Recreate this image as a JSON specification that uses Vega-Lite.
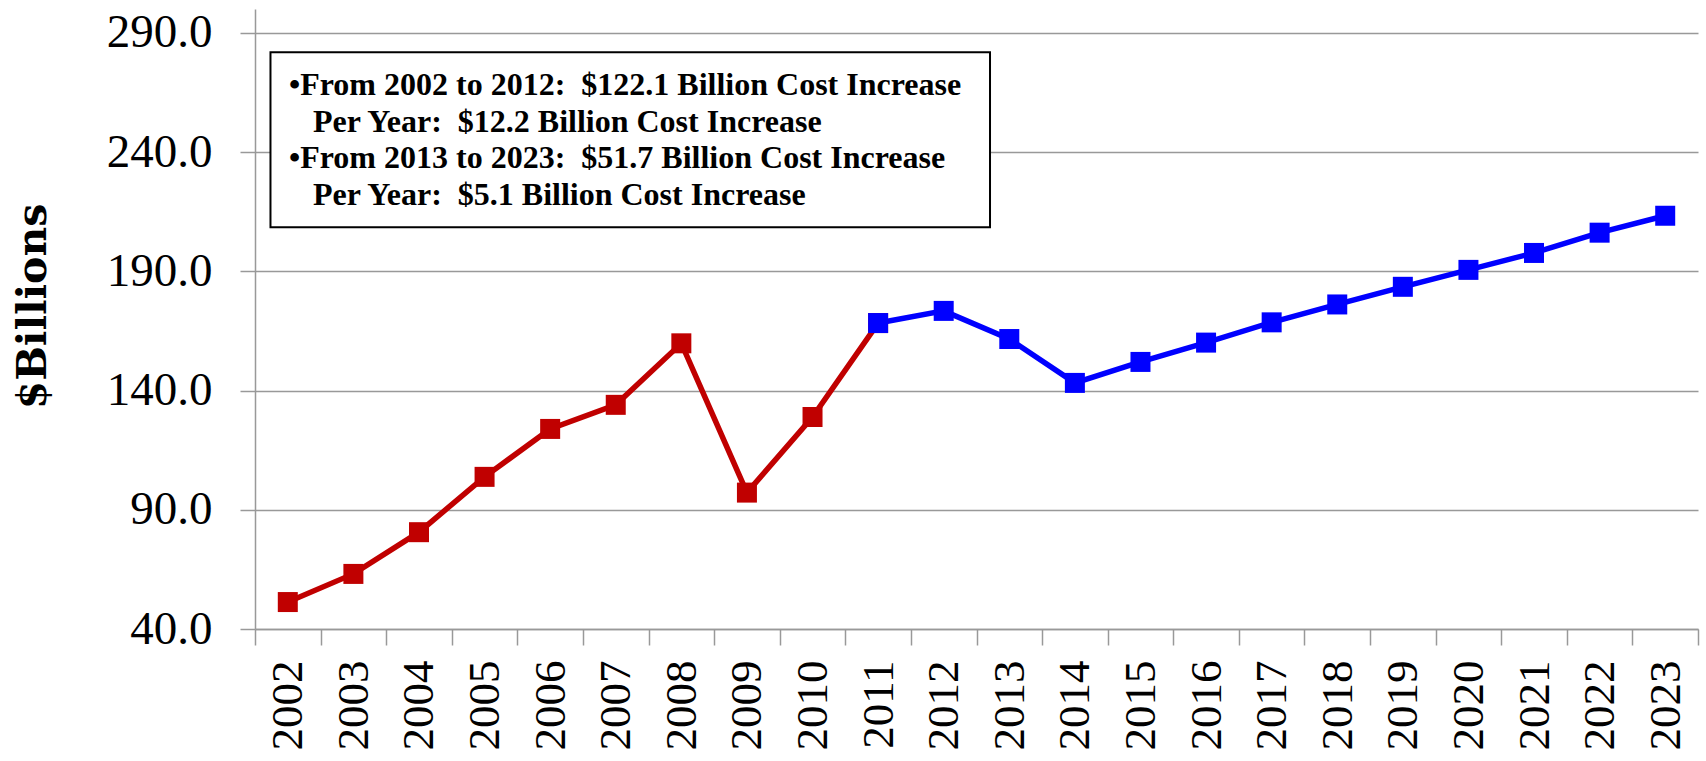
{
  "$schema": "https://vega.github.io/schema/vega-lite/v6.json",
  "width": 1443,
  "height": 620,
  "autosize": "none",
  "padding": {"left": 255, "top": 9, "right": 8, "bottom": 132},
  "background": "white",
  "config": {"view": {"stroke": null}},
  "datasets": {
    "costs": [
      {"year": "2002", "cost": 51.3, "segment": "2002-2011"},
      {"year": "2003", "cost": 63.1, "segment": "2002-2011"},
      {"year": "2004", "cost": 80.6, "segment": "2002-2011"},
      {"year": "2005", "cost": 103.8, "segment": "2002-2011"},
      {"year": "2006", "cost": 123.9, "segment": "2002-2011"},
      {"year": "2007", "cost": 134.0, "segment": "2002-2011"},
      {"year": "2008", "cost": 159.8, "segment": "2002-2011"},
      {"year": "2009", "cost": 97.2, "segment": "2002-2011"},
      {"year": "2010", "cost": 128.9, "segment": "2002-2011"},
      {"year": "2011", "cost": 168.3, "segment": "2002-2011"},
      {"year": "2011", "cost": 168.3, "segment": "2011-2023"},
      {"year": "2012", "cost": 173.4, "segment": "2011-2023"},
      {"year": "2013", "cost": 161.6, "segment": "2011-2023"},
      {"year": "2014", "cost": 143.2, "segment": "2011-2023"},
      {"year": "2015", "cost": 152.0, "segment": "2011-2023"},
      {"year": "2016", "cost": 160.1, "segment": "2011-2023"},
      {"year": "2017", "cost": 168.6, "segment": "2011-2023"},
      {"year": "2018", "cost": 176.1, "segment": "2011-2023"},
      {"year": "2019", "cost": 183.5, "segment": "2011-2023"},
      {"year": "2020", "cost": 190.6, "segment": "2011-2023"},
      {"year": "2021", "cost": 197.7, "segment": "2011-2023"},
      {"year": "2022", "cost": 206.2, "segment": "2011-2023"},
      {"year": "2023", "cost": 213.3, "segment": "2011-2023"}
    ],
    "note": [{"label": "summary"}]
  },
  "layer": [
    {
      "data": {"name": "costs"},
      "mark": {"type": "line", "strokeWidth": 5.5, "point": {"shape": "square", "size": 400, "filled": true, "opacity": 1}},
      "encoding": {
        "x": {
          "field": "year", "type": "ordinal", "bandPosition": 0.5,
          "scale": {"type": "band", "paddingInner": 0, "paddingOuter": 0},
          "axis": {
            "title": null, "labelAngle": -90, "labelFont": "Liberation Serif", "labelFontSize": 45,
            "labelColor": "black", "labelPadding": 15, "tickBand": "extent", "tickSize": 16,
            "tickColor": "#999999", "tickWidth": 1.5, "domainColor": "#999999", "domainWidth": 1.5,
            "grid": false, "labelOverlap": false
          }
        },
        "y": {
          "field": "cost", "type": "quantitative",
          "scale": {"domain": [40, 300], "nice": false, "zero": false},
          "axis": {
            "values": [40, 90, 140, 190, 240, 290], "format": ".1f",
            "labelFont": "Liberation Serif", "labelFontSize": 47, "labelColor": "black", "labelPadding": 28,
            "tickSize": 15, "tickColor": "#999999", "tickWidth": 1.5,
            "domainColor": "#999999", "domainWidth": 1.5,
            "grid": true, "gridColor": "#999999", "gridWidth": 1.5,
            "title": "$Billions", "titleFont": "DejaVu Serif", "titleFontSize": 41, "titleFontWeight": "bold",
            "titleColor": "black", "titlePadding": 52, "titleY": 297
          }
        },
        "color": {
          "field": "segment", "type": "nominal",
          "scale": {"domain": ["2002-2011", "2011-2023"], "range": ["#C00000", "#0000FF"]},
          "legend": null
        }
      }
    },
    {
      "data": {"name": "note"},
      "layer": [
        {
          "mark": {"type": "rect", "fill": "white", "stroke": "black", "strokeWidth": 2},
          "encoding": {
            "x": {"datum": 2001.736, "type": "quantitative", "scale": {"domain": [2001.5, 2023.5], "nice": false, "zero": false}, "axis": null},
            "x2": {"datum": 2012.706},
            "y": {"datum": 281.84, "type": "quantitative"},
            "y2": {"datum": 208.45}
          }
        },
        {
          "mark": {
            "type": "text", "align": "left", "baseline": "alphabetic", "font": "Liberation Serif",
            "fontSize": 32, "fontWeight": "bold", "color": "black", "lineHeight": 73.4,
            "text": [
              "•From 2002 to 2012:\u00a0 $122.1 Billion Cost Increase",
              "•From 2013 to 2023:\u00a0 $51.7 Billion Cost Increase"
            ]
          },
          "encoding": {
            "x": {"datum": 2002.018, "type": "quantitative", "scale": {"domain": [2001.5, 2023.5], "nice": false, "zero": false}, "axis": null},
            "y": {"datum": 263.94, "type": "quantitative"}
          }
        },
        {
          "mark": {
            "type": "text", "align": "left", "baseline": "alphabetic", "font": "Liberation Serif",
            "fontSize": 32, "fontWeight": "bold", "color": "black", "lineHeight": 73.4,
            "text": [
              "Per Year:\u00a0 $12.2 Billion Cost Increase",
              "Per Year:\u00a0 $5.1 Billion Cost Increase"
            ]
          },
          "encoding": {
            "x": {"datum": 2002.384, "type": "quantitative", "scale": {"domain": [2001.5, 2023.5], "nice": false, "zero": false}, "axis": null},
            "y": {"datum": 248.55, "type": "quantitative"}
          }
        }
      ]
    }
  ],
  "resolve": {"scale": {"x": "independent"}}
}
